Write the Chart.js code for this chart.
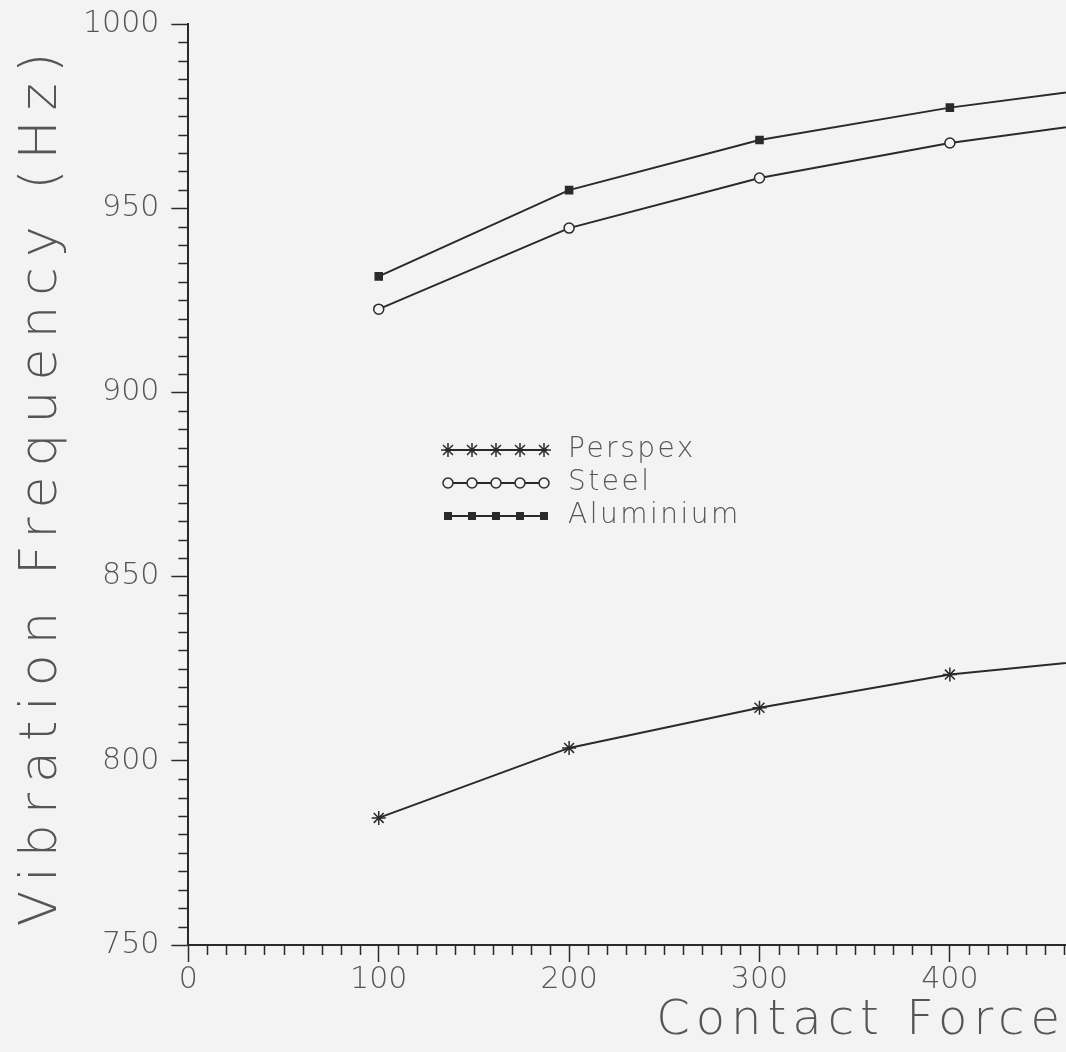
<!DOCTYPE html>
<html>
<head>
<meta charset="utf-8">
<script src="https://cdn.jsdelivr.net/npm/chart.js@4"></script>
<style>
  html, body { margin: 0; padding: 0; background: #f3f3f3; overflow: hidden; }
  #wrap { width: 1066px; height: 1052px; }
</style>
</head>
<body>
<div id="wrap"><canvas id="freq" width="1066" height="1052"></canvas></div>
<script>
const forces = [100, 200, 300, 400, 500];
const perspex = [784.5, 803.5, 814.4, 823.4, 828.6];
const steel = [922.6, 944.6, 958.2, 967.7, 974.7];
const aluminium = [931.5, 954.9, 968.5, 977.3, 984.0];
const names = ['Perspex', 'Steel', 'Aluminium'];

const ink = '#2a2a2a';
const textInk = '#555555';
const family = "'DejaVu Sans', sans-serif";

function pts(vals) {
	return forces.map((f, i) => ({ x: f, y: vals[i] }));
}

// marker drawing for the legend rows
function marker(ctx, style, x, y) {
	ctx.save();
	ctx.strokeStyle = ink;
	ctx.fillStyle = ink;
	ctx.lineWidth = 1.5;
	if (style === 'rect') {
		ctx.fillRect(x - 4, y - 4, 8, 8);
	} else if (style === 'circle') {
		ctx.fillStyle = '#f3f3f3';
		ctx.beginPath();
		ctx.arc(x, y, 5, 0, Math.PI * 2);
		ctx.fill();
		ctx.stroke();
	} else {
		ctx.beginPath();
		for (let a = 0; a < 4; a++) {
			const t = a * Math.PI / 4;
			ctx.moveTo(x - Math.cos(t) * 7, y - Math.sin(t) * 7);
			ctx.lineTo(x + Math.cos(t) * 7, y + Math.sin(t) * 7);
		}
		ctx.stroke();
	}
	ctx.restore();
}

const minorTicks = {
	id: 'minorTicks',
	afterDraw(chart) {
		const ctx = chart.ctx;
		const xs = chart.scales.x, ys = chart.scales.y;
		ctx.save();
		ctx.strokeStyle = ink;
		ctx.lineWidth = 1.5;
		ctx.beginPath();
		for (let v = 0; v <= xs.max; v += 10) {
			if (v % 100 === 0) continue;
			const px = Math.round(xs.getPixelForValue(v)) + 0.5;
			ctx.moveTo(px, xs.top);
			ctx.lineTo(px, xs.top + 10);
		}
		for (let v = ys.min; v <= ys.max; v += 5) {
			if (v % 50 === 0) continue;
			const py = Math.round(ys.getPixelForValue(v)) + 0.5;
			ctx.moveTo(ys.right, py);
			ctx.lineTo(ys.right - 10, py);
		}
		ctx.stroke();
		ctx.restore();
	}
};

const boxLegend = {
	id: 'boxLegend',
	afterDraw(chart) {
		const ctx = chart.ctx;
		const x0 = 445, x1 = 547, top = 450, gap = 33;
		chart.data.datasets.forEach((ds, i) => {
			const y = top + i * gap;
			ctx.save();
			ctx.strokeStyle = ink;
			ctx.lineWidth = 2;
			ctx.beginPath();
			ctx.moveTo(x0, y);
			ctx.lineTo(x1, y);
			ctx.stroke();
			ctx.restore();
			for (let k = 0; k < 5; k++) {
				marker(ctx, ds.pointStyle, x0 + 3 + k * (x1 - x0 - 6) / 4, y);
			}
			ctx.save();
			ctx.fillStyle = textInk;
			ctx.font = '200 28px ' + family;
			ctx.letterSpacing = '2.5px';
			ctx.textBaseline = 'middle';
			ctx.fillText(ds.label, 568, y);
			ctx.restore();
		});
	}
};

// spread the axis titles like the plotter lettering
const spacedTitles = {
	id: 'spacedTitles',
	beforeDraw(chart) {
		[['x', '6px'], ['y', '10px']].forEach(([id, sp]) => {
			const sc = chart.scales[id];
			if (!sc || sc._spaced) return;
			const orig = sc.drawTitle;
			sc.drawTitle = function () {
				this.ctx.save();
				this.ctx.letterSpacing = sp;
				orig.apply(this, arguments);
				this.ctx.restore();
			};
			sc._spaced = true;
		});
	}
};

const chrt = document.getElementById('freq').getContext('2d');
const freq = new Chart(chrt, {
	type: 'line',
	data: {
		datasets: [{
			label: names[0],
			data: pts(perspex),
			pointStyle: 'star',
			pointRadius: 7,
		}, {
			label: names[1],
			data: pts(steel),
			pointStyle: 'circle',
			pointRadius: 5,
			pointBackgroundColor: '#f3f3f3',
		}, {
			label: names[2],
			data: pts(aluminium),
			pointStyle: 'rect',
			pointRadius: 5,
			pointBackgroundColor: ink,
		}].map(d => Object.assign({
			borderColor: ink,
			borderWidth: 2,
			pointBorderColor: ink,
			pointBorderWidth: 1.5,
			tension: 0,
			fill: false,
		}, d)),
	},
	plugins: [minorTicks, boxLegend, spacedTitles],
	options: {
		responsive: false,
		animation: false,
		layout: { autoPadding: false, padding: { top: 0, left: 16, right: 0, bottom: 0 } },
		plugins: {
			legend: { display: false },
			tooltip: { enabled: false },
		},
		scales: {
			x: {
				type: 'linear',
				min: 0,
				max: 461,
				ticks: {
					stepSize: 100,
					includeBounds: false,
					color: textInk,
					padding: 0,
					font: { family: family, size: 30, weight: 200 },
				},
				grid: { drawOnChartArea: false, tickLength: 17, tickColor: ink, tickWidth: 1.5 },
				border: { color: ink, width: 2 },
				title: {
					display: true,
					text: 'Contact Force',
					align: 'end',
					color: textInk,
					padding: { top: 0, bottom: 6 },
					font: { family: family, size: 48, weight: 200, lineHeight: 1 },
				},
			},
			y: {
				min: 750,
				max: 1000,
				ticks: {
					stepSize: 50,
					color: textInk,
					padding: 12,
					callback: v => String(v),
					font: { family: family, size: 30, weight: 200, lineHeight: 0.8 },
				},
				grid: { drawOnChartArea: false, tickLength: 17, tickColor: ink, tickWidth: 1.5 },
				border: { color: ink, width: 2 },
				title: {
					display: true,
					text: 'Vibration Frequency (Hz)',
					color: textInk,
					padding: { top: 0, bottom: 3 },
					font: { family: family, size: 52, weight: 200, lineHeight: 1 },
				},
			},
		},
	},
});
</script>
</body>
</html>
